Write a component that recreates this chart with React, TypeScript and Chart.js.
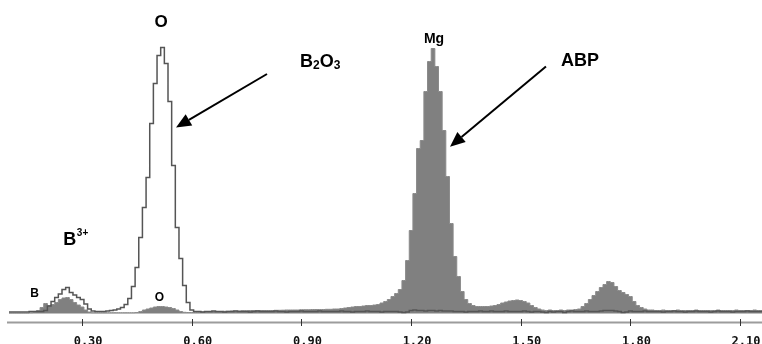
import React, { useEffect, useRef } from "react";
import { Chart, registerables } from "chart.js";

Chart.register(...registerables);

// Energy channels (keV): start and width of each channel
const E_START = 0.1;
const E_STEP = 0.01;

// B2O3 spectrum (outline), one value per channel from 0.10 to 2.16 keV
const b2o3Counts = [
  1.5, 1.5, 1.5, 1.5, 1.5, 1.5, 2, 2, 2, 2,
  3, 7.5, 12, 16, 19.5, 24, 26, 21, 18.5, 16,
  14, 9.5, 4.5, 2.5, 2, 2, 2, 2.5, 3, 3.5,
  4.5, 6, 9, 15, 27, 46, 76, 106, 136, 190,
  230, 258, 266, 250, 212, 148, 86, 55, 28, 11,
  3.5, 2, 2, 1.5, 2, 2, 2.5, 2, 2, 1.5,
  2, 2, 2.5, 2, 2, 2, 1.5, 2, 2.5, 2,
  2, 2, 2, 2.5, 2, 2, 1.5, 2, 2, 2,
  2.5, 2, 2, 2, 2, 2.5, 2, 2, 2, 2,
  2, 2.5, 2, 2, 1.5, 2, 2, 2, 2.5, 2,
  2, 2, 1.5, 2, 2, 2, 2, 1.5, 1, 1.5,
  3, 3.5, 3, 3, 2.5, 3, 3, 2.5, 3, 2.5,
  2.5, 2.5, 2, 2, 2, 1.5, 2, 2, 2, 2.5,
  2, 2, 2.5, 2, 2, 2, 2.5, 2, 2, 2,
  2, 2.5, 2, 1.5, 2, 2, 1.5, 1, 2, 1.5,
  2, 2, 1, 2, 2.5, 2, 2, 2, 2.5, 2,
  2, 2, 2.5, 3, 3, 3, 2.5, 2, 1, 1.5,
  2.5, 2, 2, 2, 2.5, 2, 2, 2, 2, 1.5,
  2, 2, 2.5, 2, 2, 1.5, 2, 2, 2.5, 2,
  2, 2, 1.5, 2, 2.5, 2, 2, 2, 1.5, 2,
  2, 2, 2.5, 2, 2, 2, 2,
];

// ABP spectrum (filled grey), one value per channel from 0.10 to 2.16 keV
const abpCounts = [
  0.5, 0.5, 0.5, 0.5, 0.5, 0.5, 0.8, 1.5, 3, 6,
  10, 8, 9, 11, 14, 15.5, 16, 14, 11, 8.5,
  6.5, 3.5, 1.5, 0.8, 0.8, 0.8, 0.8, 0.8, 0.8, 0.8,
  0.8, 0.8, 0.8, 0.8, 0.8, 1, 2, 3.5, 4.5, 5.5,
  6.5, 7, 7, 6.5, 6, 5, 3.5, 2, 1.2, 1,
  1, 1, 1.2, 1.5, 1.5, 1.8, 2, 2, 2, 2.2,
  2.2, 2.5, 2.5, 2.5, 2.8, 2.8, 3, 3, 3, 3,
  3, 3, 3, 3.2, 3.2, 3.3, 3.5, 3.5, 3.5, 3.5,
  3.8, 3.8, 3.8, 4, 4, 4, 4, 4.2, 4.2, 4.5,
  4.5, 5, 5.5, 6, 6.5, 7, 7, 7.5, 8, 8,
  8.5, 9, 10.5, 12, 14, 17, 20, 24, 33, 53,
  83, 120, 165, 173, 222, 252, 265, 247, 222, 183,
  137, 90, 57, 37, 22, 14, 10, 8, 7, 7,
  7, 7, 7.5, 8, 9, 10.5, 11.5, 12.5, 13, 13.5,
  13, 12, 10.5, 8, 6, 4.5, 3.5, 3, 3.5, 3,
  3, 3.5, 3, 3.5, 3.5, 4, 4.5, 7, 10, 14,
  18, 22, 26, 29, 32, 31, 27, 23, 21, 19,
  17, 12, 8, 6, 4.5, 3.5, 3.5, 3, 3, 3.5,
  3, 3, 3, 3.5, 3, 3, 3, 3, 3.5, 3,
  3, 3, 3, 3, 3.5, 3, 3, 3, 3, 3.5,
  3, 3, 3, 3, 3.5, 3, 3,
];

const energies = abpCounts.map((_, i) => Math.round((E_START + i * E_STEP) * 100) / 100);

const tickValues = [0.3, 0.6, 0.9, 1.2, 1.5, 1.8, 2.1];
const seriesNames = ["B2O3", "ABP"];

const X_MIN = 0.1;
const X_MAX = 2.16;
const Y_MIN = -8.5;
const Y_MAX = 313.5;

const FONT = '"Liberation Sans", Arial, sans-serif';

function arrow(ctx: CanvasRenderingContext2D, x1: number, y1: number, x2: number, y2: number) {
  const ang = Math.atan2(y2 - y1, x2 - x1);
  const headLen = 15;
  const headHalf = 6.5;
  const bx = x2 - headLen * Math.cos(ang);
  const by = y2 - headLen * Math.sin(ang);
  ctx.strokeStyle = "#000";
  ctx.lineWidth = 2;
  ctx.beginPath();
  ctx.moveTo(x1, y1);
  ctx.lineTo(bx, by);
  ctx.stroke();
  ctx.fillStyle = "#000";
  ctx.beginPath();
  ctx.moveTo(x2, y2);
  ctx.lineTo(bx + headHalf * Math.sin(ang), by - headHalf * Math.cos(ang));
  ctx.lineTo(bx - headHalf * Math.sin(ang), by + headHalf * Math.cos(ang));
  ctx.closePath();
  ctx.fill();
}

const decorPlugin = {
  id: "decor",
  afterDraw(chart: any) {
    const { ctx, chartArea, scales } = chart;
    const xs = scales.x;
    const ys = scales.y;
    const px = (e: number) => xs.getPixelForValue(e);
    const py = (v: number) => ys.getPixelForValue(v);
    ctx.save();

    // axis line and tick marks
    const yAxis = chartArea.bottom + 0.5;
    ctx.strokeStyle = "#9c9c9c";
    ctx.lineWidth = 2;
    ctx.beginPath();
    ctx.moveTo(7, yAxis);
    ctx.lineTo(chart.width, yAxis);
    ctx.stroke();
    ctx.strokeStyle = "#333";
    ctx.lineWidth = 1;
    xs.ticks.forEach((t: any) => {
      const x = Math.round(px(t.value)) + 0.5;
      ctx.beginPath();
      ctx.moveTo(x, yAxis - 3.5);
      ctx.lineTo(x, yAxis + 3.5);
      ctx.stroke();
    });

    ctx.fillStyle = "#000";
    ctx.textBaseline = "alphabetic";

    // "O" above B2O3 peak
    ctx.textAlign = "center";
    ctx.font = `bold 17px ${FONT}`;
    ctx.fillText("O", px(0.5158), py(287));

    // "Mg" above ABP peak
    ctx.font = `bold 14px ${FONT}`;
    ctx.fillText("Mg", px(1.2627), py(271));

    // small B and O labels near baseline
    ctx.font = `bold 12px ${FONT}`;
    ctx.fillText("B", px(0.1703), py(16.2));
    ctx.fillText("O", px(0.5117), py(12.8));

    // B2O3 label
    ctx.textAlign = "left";
    let x = px(0.896);
    const yb = py(246.5);
    const big = `bold 18px ${FONT}`;
    const sub = `bold 12px ${FONT}`;
    const parts: [string, string, number][] = [
      ["B", big, 0],
      ["2", sub, 2],
      ["O", big, 0],
      ["3", sub, 2],
    ];
    parts.forEach(([t, f, dy]) => {
      ctx.font = f;
      ctx.fillText(t, x, yb + dy);
      x += ctx.measureText(t).width;
    });

    // ABP label
    ctx.textAlign = "center";
    ctx.font = big;
    ctx.fillText("ABP", px(1.662), py(247.5));

    // B3+ label
    ctx.textAlign = "left";
    ctx.font = big;
    const bx = px(0.2486);
    const bY = py(68.5);
    ctx.fillText("B", bx, bY);
    const bw = ctx.measureText("B").width;
    ctx.font = `bold 10px ${FONT}`;
    ctx.fillText("3+", bx + bw + 0.5, bY - 9);

    // arrows
    arrow(ctx, px(0.8058), py(239.5), px(0.5569), py(186));
    arrow(ctx, px(1.569), py(246.9), px(1.3065), py(166.8));

    ctx.restore();
  },
};

export default function App() {
  const canvasRef = useRef<HTMLCanvasElement | null>(null);

  useEffect(() => {
    if (!canvasRef.current) return;
    const chart = new Chart(canvasRef.current, {
      type: "line",
      data: {
        datasets: [
          {
            label: seriesNames[0],
            data: energies.map((e, i) => ({ x: e, y: b2o3Counts[i] })),
            borderColor: "#555555",
            borderWidth: 1.5,
            fill: false,
            stepped: "middle",
            pointRadius: 0,
          },
          {
            label: seriesNames[1],
            data: energies.map((e, i) => ({ x: e, y: abpCounts[i] })),
            borderColor: "#8a8a8a",
            backgroundColor: "#808080",
            borderWidth: 1,
            fill: "origin",
            stepped: "middle",
            pointRadius: 0,
          },
        ],
      },
      options: {
        animation: false,
        responsive: false,
        events: [],
        layout: { padding: { left: 9, right: 0, top: 0, bottom: 0 } },
        plugins: {
          legend: { display: false },
          tooltip: { enabled: false },
        },
        scales: {
          x: {
            type: "linear",
            min: X_MIN,
            max: X_MAX,
            afterBuildTicks: (s: any) => {
              s.ticks = tickValues.map((v) => ({ value: v }));
            },
            afterFit: (s: any) => {
              s.height = 22;
            },
            grid: { display: false },
            border: { display: false },
            ticks: {
              autoSkip: false,
              maxRotation: 0,
              padding: 5,
              labelOffset: 6,
              color: "#111",
              font: { family: '"DejaVu Sans Mono", monospace', size: 12, weight: "bold" },
              callback: (v: any) => Number(v).toFixed(2),
            },
          },
          y: {
            display: false,
            min: Y_MIN,
            max: Y_MAX,
          },
        },
      },
      plugins: [decorPlugin],
    });
    return () => chart.destroy();
  }, []);

  return (
    <div style={{ position: "absolute", left: 0, top: 0, width: 762, height: 344, background: "#fff" }}>
      <canvas ref={canvasRef} width={762} height={344} style={{ display: "block" }} />
    </div>
  );
}
